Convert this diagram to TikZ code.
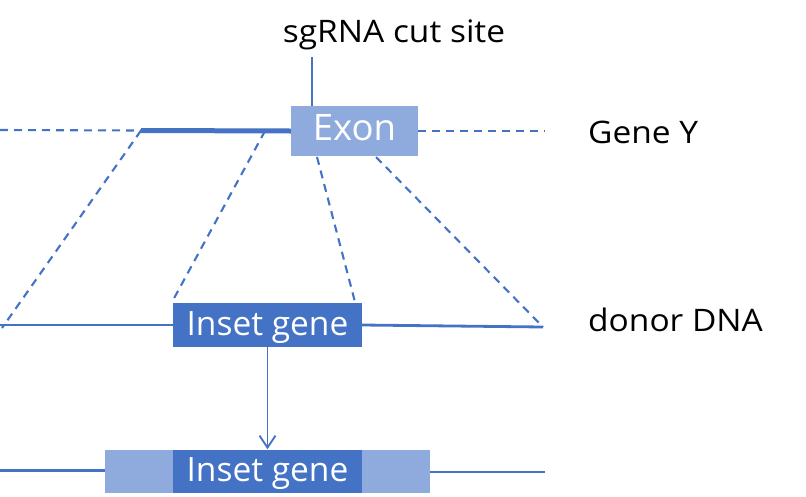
\documentclass[tikz,border=0pt]{standalone}
\usepackage{fontspec}
\setmainfont{Open Sans}
\newfontfamily\lblfont{Open Sans}[FakeStretch=1.08]
\usetikzlibrary{arrows.meta}
\definecolor{dblue}{HTML}{4472C4}
\definecolor{lblue}{HTML}{8FAADC}
\begin{document}
\begin{tikzpicture}[x=1pt,y=-1pt,
  boxd/.style={fill=dblue,draw=none,inner sep=0pt,text=white,font=\fontsize{33.5}{36}\selectfont,text height=24pt,text depth=3pt},
  boxl/.style={fill=lblue,draw=none,inner sep=0pt,text=white},
  lbl/.style={inner sep=0pt,text=black,font=\lblfont\fontsize{31}{34}\selectfont},
  dsh/.style={draw=dblue,line width=2.1pt,dash pattern=on 8pt off 6pt},
  sol/.style={draw=dblue,line width=2.8pt}]
\useasboundingbox (0,0) rectangle (806,496);
% Gene Y
\node[boxl,minimum width=127pt,minimum height=50pt,font=\fontsize{36.5}{40}\selectfont,text height=26pt,text depth=8pt] (exon) at (354.5,131) {Exon};
\coordinate (g0) at (0,130);
\coordinate (g1) at (141,130.5);
\coordinate (g2) at (545,131);
\coordinate (cut) at (312,57);
\draw[dsh] (g0) -- (g1);
\draw[draw=dblue,line width=5pt] (g1) -- (exon.west);
\draw[dsh] (exon.east) -- (g2);
\draw[sol,line width=2.4pt] (cut) -- (cut |- exon.north);
\node[lbl,anchor=base] (sg) at (394,42.7) {sgRNA cut site};
\node[lbl,anchor=base west] (gy) at (588,143) {Gene Y};
% donor
\node[boxd,minimum width=189pt,minimum height=44pt] (ins1) at (267.5,325) {Inset gene};
\coordinate (d0) at (0,325);
\coordinate (d1) at (543,327);
\draw[sol] (d0) -- (ins1.west);
\draw[sol] (ins1.east) -- (d1);
\node[lbl,anchor=base west] (dd) at (588,331.7) {donor DNA};
% diagonals
\coordinate (a1) at (265,131);
\coordinate (a2) at (172,302);
\coordinate (b1) at (317,157);
\coordinate (b2) at (355,302);
\coordinate (c1) at (376,157);
\coordinate (e1) at (2,328);
\draw[dsh] (g1) -- (e1);
\draw[dsh] (a1) -- (a2);
\draw[dsh] (b1) -- (b2);
\draw[dsh] (c1) -- (d1);
% result
\node[boxl,minimum width=325pt,minimum height=43pt] (lb) at (267.5,471) {};
\node[boxd,minimum width=189pt,minimum height=43pt] (ins2) at (267.5,471) {Inset gene};
\coordinate (r0) at (0,470.5);
\coordinate (r1) at (545,472);
\draw[sol] (r0) -- (r0 -| lb.west);
\draw[sol] (r1 -| lb.east) -- (r1);
\draw[draw=dblue,line width=1.9pt,-{Straight Barb[length=12pt,width=16pt,line width=1.9pt]}] (ins1.south) -- (ins2.north);
\end{tikzpicture}
\end{document}
